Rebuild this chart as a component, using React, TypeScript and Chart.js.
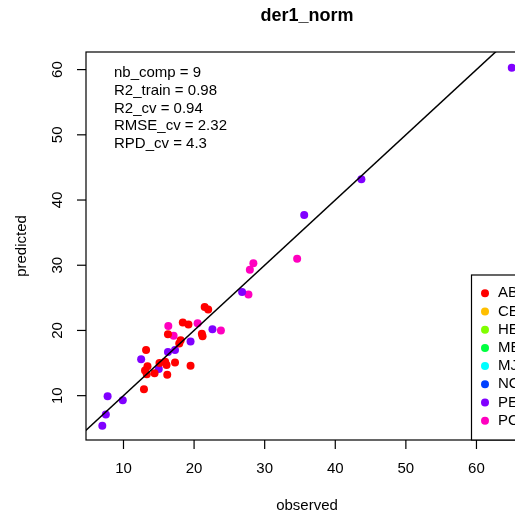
import React, { useEffect, useRef } from "react";
import { Chart, registerables } from "chart.js";

Chart.register(...registerables);

const chartTitle = "der1_norm";
const xLabel = "observed";
const yLabel = "predicted";
const xTicks = [10, 20, 30, 40, 50, 60];
const yTicks = [10, 20, 30, 40, 50, 60];
const statsLines = [
  "nb_comp = 9",
  "R2_train = 0.98",
  "R2_cv = 0.94",
  "RMSE_cv = 2.32",
  "RPD_cv = 4.3",
];

const groupNames = ["AB", "CE", "HE", "ME", "MJ", "NO", "PE", "PO"];
const groupColors = ["#FF0000", "#FFBF00", "#80FF00", "#00FF40", "#00FFFF", "#0040FF", "#8000FF", "#FF00BF"];

const abObserved = [21.5, 22.0, 18.4, 19.2, 16.3, 21.1, 21.2, 18.1, 17.9, 13.2, 13.4, 13.05, 13.3, 14.4, 15.1, 15.9, 16.1, 17.3, 16.2, 19.5, 12.9];
const abPredicted = [23.6, 23.2, 21.2, 20.9, 19.4, 19.5, 19.1, 18.5, 18.0, 17.0, 14.5, 13.85, 13.3, 13.45, 15.0, 15.2, 14.7, 15.1, 13.2, 14.6, 11.0];
const peObserved = [26.8, 22.6, 19.5, 16.3, 17.3, 12.5, 15.0, 7.75, 9.9, 7.5, 7.0, 35.6, 43.7, 65.0];
const pePredicted = [25.9, 20.2, 18.3, 16.7, 17.0, 15.6, 14.1, 9.9, 9.3, 7.1, 5.4, 37.7, 43.2, 60.3];
const poObserved = [27.7, 16.35, 17.1, 20.5, 23.8, 34.6, 28.4, 27.9];
const poPredicted = [25.5, 20.7, 19.2, 21.1, 20.0, 31.0, 30.3, 29.3];
const emptyObs: number[] = [];
const emptyPred: number[] = [];

const groupObserved = [abObserved, emptyObs, emptyObs, emptyObs, emptyObs, emptyObs, peObserved, poObserved];
const groupPredicted = [abPredicted, emptyPred, emptyPred, emptyPred, emptyPred, emptyPred, pePredicted, poPredicted];

const identityLine = [0, 80];

const W = 540;
const H = 514;
const FONT = "'Liberation Sans', Arial, Helvetica, sans-serif";

const rPlot = {
  id: "rPlot",
  afterDraw(chart: any) {
    const ctx = chart.ctx as CanvasRenderingContext2D;
    const { left, right, top, bottom } = chart.chartArea;
    const xs = chart.scales.x;
    const ys = chart.scales.y;
    ctx.save();
    ctx.strokeStyle = "#000";
    ctx.fillStyle = "#000";
    ctx.lineWidth = 1.2;
    ctx.strokeRect(left, top, right - left, bottom - top);

    // x ticks
    ctx.font = `15px ${FONT}`;
    ctx.textAlign = "center";
    ctx.textBaseline = "middle";
    xTicks.forEach((v) => {
      const px = xs.getPixelForValue(v);
      ctx.beginPath();
      ctx.moveTo(px, bottom);
      ctx.lineTo(px, bottom + 9);
      ctx.stroke();
      ctx.fillText(String(v), px, 469);
    });
    // y ticks
    yTicks.forEach((v) => {
      const py = ys.getPixelForValue(v);
      ctx.beginPath();
      ctx.moveTo(left, py);
      ctx.lineTo(left - 9, py);
      ctx.stroke();
      ctx.save();
      ctx.translate(58, py);
      ctx.rotate(-Math.PI / 2);
      ctx.fillText(String(v), 0, 0);
      ctx.restore();
    });

    // axis titles
    const cx = 307;
    ctx.fillText(xLabel, cx, 506);
    ctx.save();
    ctx.translate(22, (top + bottom) / 2);
    ctx.rotate(-Math.PI / 2);
    ctx.fillText(yLabel, 0, 0);
    ctx.restore();

    // title
    ctx.font = `bold 18px ${FONT}`;
    ctx.fillText(chartTitle, cx, 16);

    // stats text
    ctx.font = `15px ${FONT}`;
    ctx.textAlign = "left";
    statsLines.forEach((s, i) => {
      ctx.fillText(s, 114, 73 + i * 17.7);
    });

    // legend (bottom right)
    const lx = 471.5;
    const ly = 275;
    ctx.fillStyle = "#fff";
    ctx.fillRect(lx, ly, right - lx, bottom - ly);
    ctx.strokeStyle = "#000";
    ctx.lineWidth = 1.2;
    ctx.strokeRect(lx, ly, right - lx, bottom - ly);
    groupNames.forEach((name, i) => {
      const y = 293.3 + i * 18.2;
      ctx.beginPath();
      ctx.arc(485, y, 4, 0, Math.PI * 2);
      ctx.fillStyle = groupColors[i];
      ctx.fill();
      ctx.fillStyle = "#000";
      ctx.fillText(name, 498, y);
    });
    ctx.restore();
  },
};

export default function App() {
  const ref = useRef<HTMLCanvasElement | null>(null);
  useEffect(() => {
    if (!ref.current) return;
    const datasets: any[] = [
      {
        type: "line",
        label: "1:1",
        data: identityLine.map((v) => ({ x: v, y: v })),
        borderColor: "#000",
        borderWidth: 1.5,
        pointRadius: 0,
        showLine: true,
        fill: false,
        order: 0,
      },
    ];
    groupNames.forEach((name, gi) => {
      datasets.push({
        type: "scatter",
        label: name,
        data: groupObserved[gi].map((x, i) => ({ x, y: groupPredicted[gi][i] })),
        backgroundColor: groupColors[gi],
        borderWidth: 0,
        pointRadius: 4,
        order: 1,
      });
    });
    const chart = new Chart(ref.current, {
      type: "scatter",
      data: { datasets },
      options: {
        responsive: false,
        animation: false,
        devicePixelRatio: 1,
        layout: { padding: { left: 86, right: W - 528, top: 52, bottom: H - 440 } },
        plugins: { legend: { display: false }, tooltip: { enabled: false } },
        scales: {
          x: { type: "linear", min: 4.69, max: 67.3, display: false },
          y: { type: "linear", min: 3.2, max: 62.7, display: false },
        },
      },
      plugins: [rPlot],
    });
    return () => chart.destroy();
  }, []);
  return (
    <div style={{ position: "fixed", left: 0, top: 0, width: 515, height: 514, overflow: "hidden", background: "#fff" }}>
      <canvas ref={ref} width={W} height={H} style={{ width: W, height: H, display: "block" }} />
    </div>
  );
}
